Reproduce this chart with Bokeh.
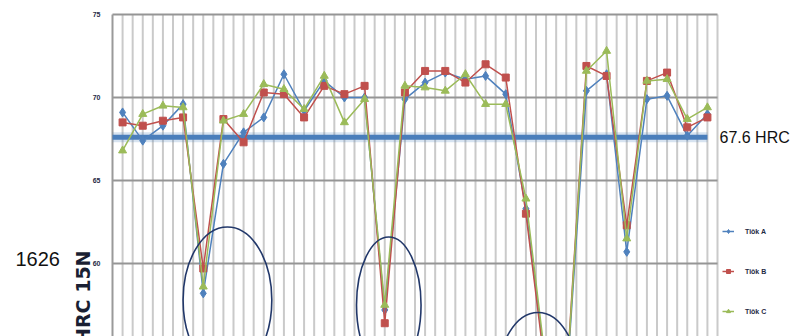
import math
import numpy as np
from bokeh.plotting import figure
from bokeh.models import Range1d, Label, Legend, LegendItem
from bokeh.core.properties import value
from bokeh.embed import file_html
from bokeh.resources import INLINE

# ---------------- data ----------------
categories = list(range(1, 31))
tiok_a = [69.1, 67.4, 68.3, 69.6, 58.2, 66.0, 67.9, 68.8, 71.4, 69.2,
          71.0, 70.0, 70.0, 57.2, 69.9, 70.9, 71.5, 71.1, 71.3, 70.2,
          63.3, 53.5, 52.5, 70.4, 71.4, 60.7, 69.9, 70.1, 67.7, 69.0]
tiok_b = [68.5, 68.3, 68.6, 68.8, 59.7, 68.7, 67.3, 70.3, 70.2, 68.8,
          70.7, 70.2, 70.7, 56.4, 70.3, 71.6, 71.6, 70.9, 72.0, 71.2,
          63.0, 53.2, 52.8, 71.9, 71.3, 62.3, 71.0, 71.5, 68.2, 68.8]
tiok_c = [66.8, 69.0, 69.5, 69.4, 58.6, 68.6, 69.0, 70.8, 70.5, 69.3,
          71.3, 68.5, 69.9, 57.5, 70.7, 70.6, 70.4, 71.4, 69.6, 69.6,
          63.9, 53.8, 52.6, 71.6, 72.8, 61.5, 71.0, 71.1, 68.7, 69.4]
series_names = ["Tiôk A", "Tiôk B", "Tiôk C"]
reference_value = 67.6
reference_label = "67.6 HRC"
y_ticks = [60, 65, 70, 75]
y_tick_labels = ["60", "65", "70", "75"]
y_axis_title = "HRC 15N"
side_label = "1626"
# circled regions: centre (category index, HRC), size (categories, HRC)
circle_x = [5.2, 13.2, 20.6]
circle_y = [57.8, 57.5, 53.0]
circle_w = [4.4, 3.2, 4.0]
circle_h = [8.8, 8.2, 8.1]

# ---------------- layout ----------------
W, H = 801, 336
FL, FR, FT, FB = 112, 717, 14, 336      # plot area in canvas pixels
n = len(categories)
x0, x1 = -0.5, n - 0.5                  # category axis extent
y0, y1 = 55.6, 75.0                     # value axis extent (visible part)
xs = np.arange(n)


def px_x(px):
    return x0 + (px - FL) / (FR - FL) * (x1 - x0)


def px_y(py):
    return y1 - (py - FT) / (FB - FT) * (y1 - y0)


# the frame covers the whole canvas; the plot area is drawn inside it
p = figure(width=W, height=H, x_range=Range1d(px_x(0), px_x(W)),
           y_range=Range1d(px_y(H), px_y(0)),
           output_backend="svg", toolbar_location=None,
           x_axis_location=None, y_axis_location=None,
           min_border=0, min_border_left=0, min_border_right=0,
           min_border_top=0, min_border_bottom=0)
p.outline_line_color = None
p.xgrid.visible = False
p.ygrid.visible = False
p.background_fill_color = "white"
p.border_fill_color = "white"

# vertical grid (category centres and boundaries)
vgrid = list(np.arange(x0 + 0.5, x1 + 0.01, 0.5))
p.segment(x0=vgrid, x1=vgrid, y0=[y0] * len(vgrid), y1=[y1] * len(vgrid),
          line_color="#CACACA", line_width=2)
# horizontal grid
hgrid = [55] + y_ticks
p.segment(x0=[x0] * len(hgrid), x1=[x1] * len(hgrid), y0=hgrid, y1=hgrid,
          line_color="#959595", line_width=2)
# value axis line
p.segment(x0=[x0], x1=[x0], y0=[y0], y1=[y1], line_color="#9A9A9A", line_width=2)
# tick labels
p.text(x=[px_x(FL - 12)] * len(y_ticks), y=y_ticks, text=y_tick_labels,
       text_font=value("Liberation Sans"), text_font_size="7px",
       text_font_style="bold", text_align="right", text_baseline="middle",
       text_color="#1F2A44")

# reference line
ref_x = [x0, xs[-1]]
ref_y = [reference_value, reference_value]
p.line(ref_x, ref_y, line_width=10, color="#4A7EBB", alpha=0.22)
p.line(ref_x, ref_y, line_width=5, color="#4A7EBB")

colors = ["#4F81BD", "#C0504D", "#9BBB59"]
markers = ["diamond", "square", "triangle"]
msizes = [9, 7, 8]
items = []
for vals, name, c, m, s in zip([tiok_a, tiok_b, tiok_c], series_names, colors, markers, msizes):
    r1 = p.line(xs, vals, color=c, line_width=1.5)
    r2 = p.scatter(xs, vals, marker=m, size=s, fill_color=c, line_color=c)
    items.append(LegendItem(label=name, renderers=[r1, r2]))

p.ellipse(x=circle_x, y=circle_y, width=circle_w, height=circle_h,
          fill_color=None, line_color="#22386A", line_width=1.6)

legend = Legend(items=items, location=(722, 20), orientation="vertical",
                label_text_font_size="7px", label_text_color="#1F2A44",
                label_text_font="Liberation Sans", label_text_font_style="bold",
                glyph_width=12, glyph_height=10, spacing=30, padding=0, margin=0,
                label_standoff=11, border_line_color=None, background_fill_alpha=0)
p.add_layout(legend)

p.add_layout(Label(x=px_x(719), y=px_y(137), text=reference_label,
                   text_font="Liberation Sans",
                   text_font_size="16px", text_baseline="middle", text_align="left",
                   text_color="#111111"))
p.add_layout(Label(x=px_x(15), y=px_y(258), text=side_label,
                   text_font="Liberation Sans", text_font_size="20px",
                   text_baseline="alphabetic", text_align="left", text_color="#111111"))
p.add_layout(Label(x=px_x(82), y=px_y(250), text=y_axis_title, angle=math.pi / 2,
                   text_font="DejaVu Sans", text_font_size="19px",
                   text_font_style="bold", text_baseline="middle", text_align="right",
                   text_color="#1A1F33"))

open("out.html", "w").write(file_html(p, INLINE))
